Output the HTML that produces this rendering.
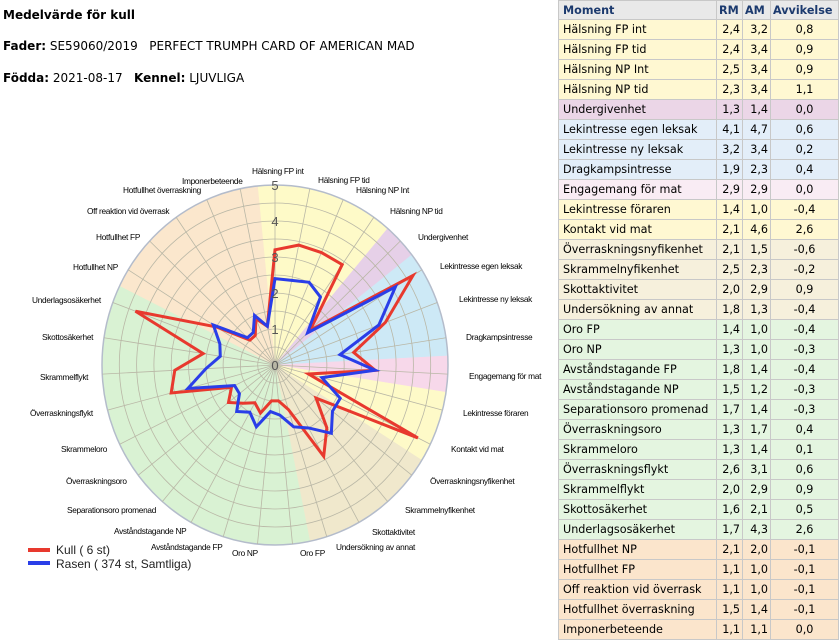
<!DOCTYPE html>
<html><head><meta charset="utf-8"><style>
body{margin:0;width:839px;height:641px;background:#fff;font-family:"DejaVu Sans",Verdana,sans-serif;position:relative;overflow:hidden}
.h{position:absolute;left:3px;font-size:12px;color:#000;white-space:pre}
table{position:absolute;left:558px;top:0;border-collapse:collapse;font-size:11.2px;width:281px;table-layout:fixed}
td,th{border:1px solid #c8c8c8;height:19px;padding:0 0 0 4px;white-space:nowrap;overflow:hidden}
th{background:#e9e9e9;color:#1c3a6e;text-align:left;height:18px}
td.n{text-align:right;padding:0 2px 0 0}
td.c{text-align:center;padding:0}
.y{background:#fff8d2}.p{background:#ebd6e7}.b{background:#e3eef9}.k{background:#f9ecf4}.t{background:#f6f0dc}.g{background:#e4f5e0}.o{background:#fbe5cc}
svg text.l{font-family:"Liberation Sans",Arial,sans-serif;font-size:8.3px;letter-spacing:-0.3px;fill:#000}
</style></head><body>
<div class="h" style="top:8px"><b>Medelvärde för kull</b></div>
<div class="h" style="top:39px"><b>Fader:</b> SE59060/2019   PERFECT TRUMPH CARD OF AMERICAN MAD</div>
<div class="h" style="top:71px"><b>Födda:</b> 2021-08-17   <b>Kennel:</b> LJUVLIGA</div>
<svg id="s" width="558" height="641" style="position:absolute;left:0;top:0">
<g id="bg"></g><g id="grid"></g><g id="ser"></g>
<g font-family="Liberation Sans,Arial,sans-serif" font-size="13" fill="#555" text-anchor="middle">
<text x="275" y="370">0</text><text x="275" y="298">2</text><text x="275" y="334">1</text><text x="275" y="262">3</text><text x="275" y="226">4</text><text x="275" y="190">5</text></g>
<text class="l" x="252" y="174">Hälsning FP int</text>
<text class="l" x="318" y="183">Hälsning FP tid</text>
<text class="l" x="356" y="193">Hälsning NP Int</text>
<text class="l" x="390" y="214">Hälsning NP tid</text>
<text class="l" x="418" y="240">Undergivenhet</text>
<text class="l" x="440" y="269">Lekintresse egen leksak</text>
<text class="l" x="459" y="302">Lekintresse ny leksak</text>
<text class="l" x="466" y="340">Dragkampsintresse</text>
<text class="l" x="469" y="379">Engagemang för mat</text>
<text class="l" x="463" y="416">Lekintresse föraren</text>
<text class="l" x="451" y="452">Kontakt vid mat</text>
<text class="l" x="430" y="484">Överraskningsnyfikenhet</text>
<text class="l" x="405" y="513">Skrammelnyfikenhet</text>
<text class="l" x="372" y="535">Skottaktivitet</text>
<text class="l" x="336" y="550">Undersökning av annat</text>
<text class="l" x="300" y="556">Oro FP</text>
<text class="l" x="232" y="556">Oro NP</text>
<text class="l" x="151" y="550">Avståndstagande FP</text>
<text class="l" x="114" y="534">Avståndstagande NP</text>
<text class="l" x="67" y="513">Separationsoro promenad</text>
<text class="l" x="66" y="484">Överraskningsoro</text>
<text class="l" x="61" y="452">Skrammeloro</text>
<text class="l" x="30" y="416">Överraskningsflykt</text>
<text class="l" x="40" y="380">Skrammelflykt</text>
<text class="l" x="42" y="340">Skottosäkerhet</text>
<text class="l" x="32" y="303">Underlagsosäkerhet</text>
<text class="l" x="73" y="270">Hotfullhet NP</text>
<text class="l" x="96" y="240">Hotfullhet FP</text>
<text class="l" x="87" y="214">Off reaktion vid överrask</text>
<text class="l" x="123" y="193">Hotfullhet överraskning</text>
<text class="l" x="182" y="184">Imponerbeteende</text>
<line x1="28" y1="550" x2="50" y2="550" stroke="#e8392e" stroke-width="4"/>
<line x1="28" y1="563" x2="50" y2="563" stroke="#2a3ee8" stroke-width="4"/>
<g font-family="Liberation Sans,Arial,sans-serif" font-size="12" fill="#222">
<text x="56" y="554">Kull ( 6 st)</text><text x="56" y="568">Rasen ( 374 st, Samtliga)</text></g>
</svg>
<table>
<colgroup><col style="width:158px"><col style="width:26px"><col style="width:28px"><col></colgroup>
<tr><th>Moment</th><th style="padding:0 2px">RM</th><th style="padding:0 2px">AM</th><th style="padding:0 2px">Avvikelse</th></tr>
<tr class="y"><td>Hälsning FP int</td><td class="n">2,4</td><td class="n">3,2</td><td class="c">0,8</td></tr>
<tr class="y"><td>Hälsning FP tid</td><td class="n">2,4</td><td class="n">3,4</td><td class="c">0,9</td></tr>
<tr class="y"><td>Hälsning NP Int</td><td class="n">2,5</td><td class="n">3,4</td><td class="c">0,9</td></tr>
<tr class="y"><td>Hälsning NP tid</td><td class="n">2,3</td><td class="n">3,4</td><td class="c">1,1</td></tr>
<tr class="p"><td>Undergivenhet</td><td class="n">1,3</td><td class="n">1,4</td><td class="c">0,0</td></tr>
<tr class="b"><td>Lekintresse egen leksak</td><td class="n">4,1</td><td class="n">4,7</td><td class="c">0,6</td></tr>
<tr class="b"><td>Lekintresse ny leksak</td><td class="n">3,2</td><td class="n">3,4</td><td class="c">0,2</td></tr>
<tr class="b"><td>Dragkampsintresse</td><td class="n">1,9</td><td class="n">2,3</td><td class="c">0,4</td></tr>
<tr class="k"><td>Engagemang för mat</td><td class="n">2,9</td><td class="n">2,9</td><td class="c">0,0</td></tr>
<tr class="y"><td>Lekintresse föraren</td><td class="n">1,4</td><td class="n">1,0</td><td class="c">-0,4</td></tr>
<tr class="y"><td>Kontakt vid mat</td><td class="n">2,1</td><td class="n">4,6</td><td class="c">2,6</td></tr>
<tr class="t"><td>Överraskningsnyfikenhet</td><td class="n">2,1</td><td class="n">1,5</td><td class="c">-0,6</td></tr>
<tr class="t"><td>Skrammelnyfikenhet</td><td class="n">2,5</td><td class="n">2,3</td><td class="c">-0,2</td></tr>
<tr class="t"><td>Skottaktivitet</td><td class="n">2,0</td><td class="n">2,9</td><td class="c">0,9</td></tr>
<tr class="t"><td>Undersökning av annat</td><td class="n">1,8</td><td class="n">1,3</td><td class="c">-0,4</td></tr>
<tr class="g"><td>Oro FP</td><td class="n">1,4</td><td class="n">1,0</td><td class="c">-0,4</td></tr>
<tr class="g"><td>Oro NP</td><td class="n">1,3</td><td class="n">1,0</td><td class="c">-0,3</td></tr>
<tr class="g"><td>Avståndstagande FP</td><td class="n">1,8</td><td class="n">1,4</td><td class="c">-0,4</td></tr>
<tr class="g"><td>Avståndstagande NP</td><td class="n">1,5</td><td class="n">1,2</td><td class="c">-0,3</td></tr>
<tr class="g"><td>Separationsoro promenad</td><td class="n">1,7</td><td class="n">1,4</td><td class="c">-0,3</td></tr>
<tr class="g"><td>Överraskningsoro</td><td class="n">1,3</td><td class="n">1,7</td><td class="c">0,4</td></tr>
<tr class="g"><td>Skrammeloro</td><td class="n">1,3</td><td class="n">1,4</td><td class="c">0,1</td></tr>
<tr class="g"><td>Överraskningsflykt</td><td class="n">2,6</td><td class="n">3,1</td><td class="c">0,6</td></tr>
<tr class="g"><td>Skrammelflykt</td><td class="n">2,0</td><td class="n">2,9</td><td class="c">0,9</td></tr>
<tr class="g"><td>Skottosäkerhet</td><td class="n">1,6</td><td class="n">2,1</td><td class="c">0,5</td></tr>
<tr class="g"><td>Underlagsosäkerhet</td><td class="n">1,7</td><td class="n">4,3</td><td class="c">2,6</td></tr>
<tr class="o"><td>Hotfullhet NP</td><td class="n">2,1</td><td class="n">2,0</td><td class="c">-0,1</td></tr>
<tr class="o"><td>Hotfullhet FP</td><td class="n">1,1</td><td class="n">1,0</td><td class="c">-0,1</td></tr>
<tr class="o"><td>Off reaktion vid överrask</td><td class="n">1,1</td><td class="n">1,0</td><td class="c">-0,1</td></tr>
<tr class="o"><td>Hotfullhet överraskning</td><td class="n">1,5</td><td class="n">1,4</td><td class="c">-0,1</td></tr>
<tr class="o"><td>Imponerbeteende</td><td class="n">1,1</td><td class="n">1,1</td><td class="c">0,0</td></tr>
</table>
<script>
var cx=275,cy=365,rx=173,ry=180,N=31,st=2*Math.PI/N,NS="http://www.w3.org/2000/svg";
var RM=[2.4,2.4,2.5,2.3,1.3,4.1,3.2,1.9,2.9,1.4,2.1,2.1,2.5,2.0,1.8,1.4,1.3,1.8,1.5,1.7,1.3,1.3,2.6,2.0,1.6,1.7,2.1,1.1,1.1,1.5,1.1];
var AM=[3.2,3.4,3.4,3.4,1.4,4.7,3.4,2.3,2.9,1.0,4.6,1.5,2.3,2.9,1.3,1.0,1.0,1.4,1.2,1.4,1.7,1.4,3.1,2.9,2.1,4.3,2.0,1.0,1.0,1.4,1.1];
var col=["#fefac8","#fefac8","#fefac8","#fefac8","#e6d0e8","#cde9f6","#cde9f6","#cde9f6","#f7d8ea","#fefac8","#fefac8","#f0e8cc","#f0e8cc","#f0e8cc","#f0e8cc"];
for(var i=15;i<26;i++)col.push("#d9f2d3");for(i=26;i<31;i++)col.push("#fbe7cd");
function P(a,r){return [cx+rx*r*Math.sin(a),cy-ry*r*Math.cos(a)];}
function el(t,a,p){var e=document.createElementNS(NS,t);for(var k in a)e.setAttribute(k,a[k]);document.getElementById(p).appendChild(e);}
for(i=0;i<N;i++){var a0=(i-0.5)*st,a1=(i+0.5)*st,p0=P(a0,1),p1=P(a1,1);
el("path",{d:"M"+cx+","+cy+"L"+p0+"A"+rx+","+ry+" 0 0 1 "+p1+"Z",fill:col[i],stroke:col[i],"stroke-width":0.5},"bg");}
for(i=1;i<=10;i++)el("ellipse",{cx:cx,cy:cy,rx:rx*i/10,ry:ry*i/10,fill:"none",stroke:i==10?"#b4bccb":"#b9b7a6","stroke-width":i==10?1.5:0.8},"grid");
for(i=0;i<N;i++){var p=P(i*st,1);el("line",{x1:cx,y1:cy,x2:p[0],y2:p[1],stroke:"#b9b7a6","stroke-width":0.8},"grid");}
function poly(v,c){var s=[];for(var i=0;i<N;i++)s.push(P(i*st,v[i]/5).join(","));el("polygon",{points:s.join(" "),fill:"none",stroke:c,"stroke-width":3,"stroke-linejoin":"miter"},"ser");}
poly(AM,"#e8392e");poly(RM,"#2a3ee8");
</script>
</body></html>
